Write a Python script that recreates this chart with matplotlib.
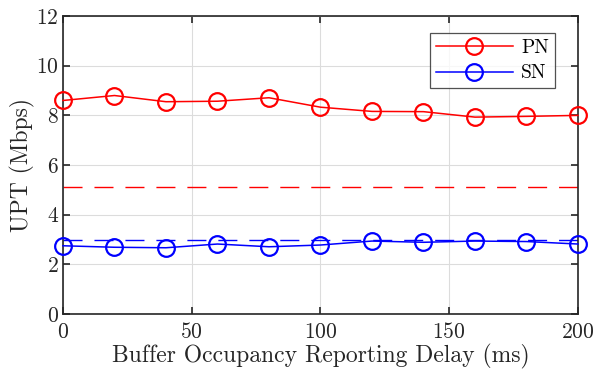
import numpy as np
import matplotlib.pyplot as plt

plt.rcParams['font.family'] = ['cmr10', 'DejaVu Serif']
plt.rcParams['mathtext.fontset'] = 'cm'
plt.rcParams['axes.formatter.use_mathtext'] = True

delay_ms = [0, 20, 40, 60, 80, 100, 120, 140, 160, 180, 200]
upt_pn = [8.60, 8.80, 8.55, 8.57, 8.71, 8.33, 8.16, 8.15, 7.93, 7.96, 8.00]
upt_sn = [2.75, 2.69, 2.67, 2.82, 2.71, 2.78, 2.94, 2.89, 2.94, 2.92, 2.82]
pn_baseline = 5.12
sn_baseline = 2.98

fig = plt.figure(figsize=(5.94, 3.73), dpi=100)
ax = fig.add_axes([0.106, 0.158, 0.867, 0.799])

ax.plot(delay_ms, upt_pn, '-o', color='red', linewidth=1.1, markersize=12,
        markerfacecolor='none', markeredgewidth=1.6, label='PN', clip_on=False, zorder=3)
ax.plot(delay_ms, upt_sn, '-o', color='blue', linewidth=1.1, markersize=12,
        markerfacecolor='none', markeredgewidth=1.6, label='SN', clip_on=False, zorder=3)
# reference levels
ax.axhline(pn_baseline, color='red', linestyle=(0, (13.7, 8.6)), linewidth=1.0)
ax.axhline(sn_baseline, color='blue', linestyle=(0, (13.7, 8.6)), linewidth=1.0)

ax.set_xlim(0, 200)
ax.set_ylim(0, 12)
ax.set_xticks(np.arange(0, 201, 50))
ax.set_yticks(np.arange(0, 13, 2))
ax.grid(True, color='#dcdcdc', linewidth=0.8)
ax.set_axisbelow(True)

for s in ax.spines.values():
    s.set_linewidth(1.2)
    s.set_color('#262626')
ax.tick_params(direction='in', top=True, right=True, length=5, width=1.2,
               labelsize=15.5, colors='#262626')
ax.tick_params(axis='x', pad=6)
ax.tick_params(axis='y', pad=3)

ax.set_xlabel('Buffer Occupancy Reporting Delay (ms)', fontsize=17, color='#262626', labelpad=1)
ax.set_ylabel('UPT (Mbps)', fontsize=17, color='#262626', labelpad=1)

leg = ax.legend(loc='upper right', bbox_to_anchor=(0.955, 0.943), fontsize=14,
                handlelength=4.0, fancybox=False, edgecolor='#262626',
                borderpad=0.3, borderaxespad=0, labelspacing=0.4, handletextpad=0.4)
leg.get_frame().set_linewidth(0.9)

fig.savefig('out.png', dpi=100)
